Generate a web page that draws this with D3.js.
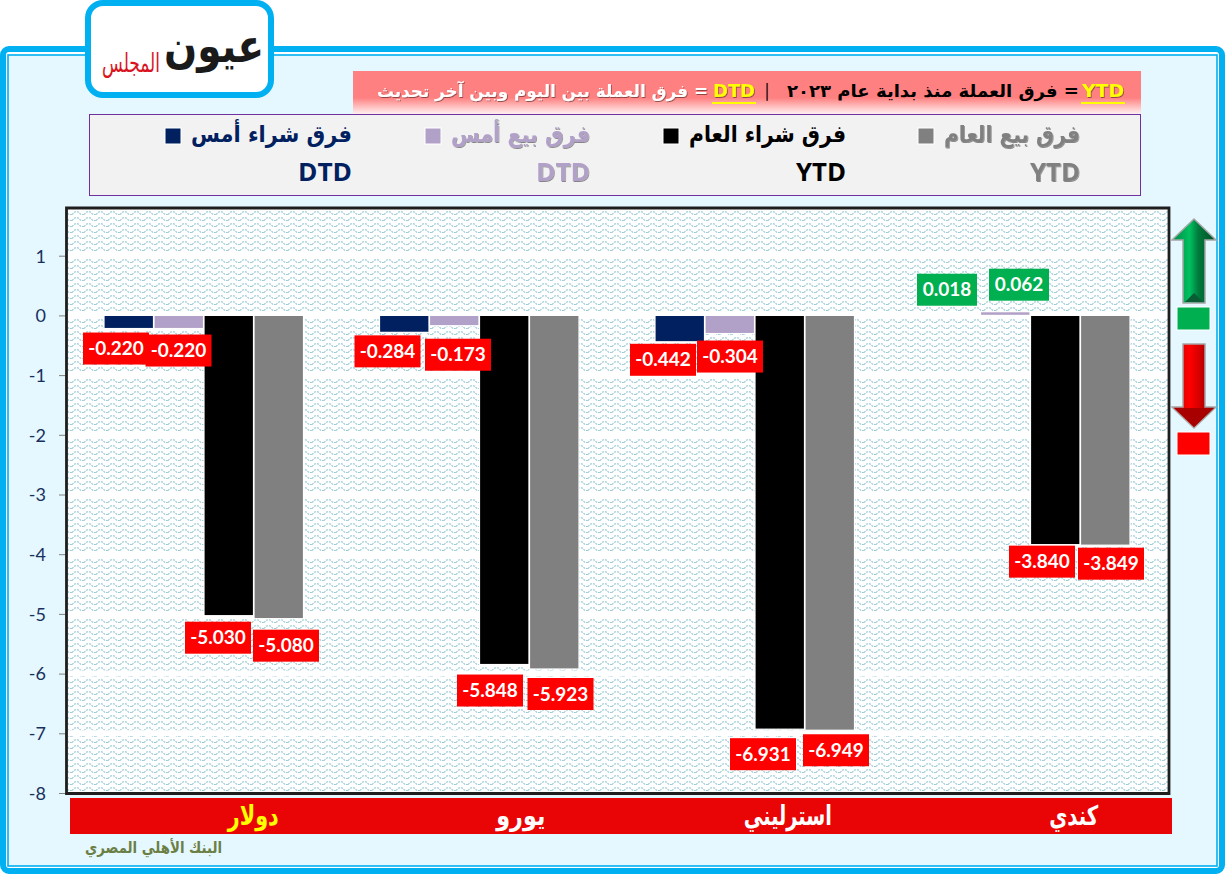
<!DOCTYPE html>
<html lang="ar"><head><meta charset="utf-8">
<style>html,body{margin:0;padding:0;background:#fff;overflow:hidden}svg{display:block}</style>
<script src="https://cdn.jsdelivr.net/npm/d3@7/dist/d3.min.js"></script></head>
<body><svg id="c" width="1225" height="874"></svg>
<script>
const categories = ["دولار","يورو","استرليني","كندي"];
const seriesNames = ["فرق شراء أمس","فرق بيع أمس","فرق شراء العام","فرق بيع العام"];
const seriesTags = ["DTD","DTD","YTD","YTD"];
const buyYesterday = [-0.220,-0.284,-0.442,0.018];
const sellYesterday = [-0.220,-0.173,-0.304,0.062];
const buyYear = [-5.030,-5.848,-6.931,-3.840];
const sellYear = [-5.080,-5.923,-6.949,-3.849];
const seriesValues = [buyYesterday,sellYesterday,buyYear,sellYear];
const seriesColors = ["#002060","#b1a0c7","#000000","#808080"];
const yTicks = [1,0,-1,-2,-3,-4,-5,-6,-7,-8];
const catLabelColors = ["#ffff00","#ffffff","#ffffff","#ffffff"];
// hand placement of labels relative to the bar they belong to [dx,dy] per category, per series
const labelNudges = [
 [[-13,20],[-0.5,22],[-11,22],[7,27]],
 [[-17,19],[3.5,29],[-14.5,26],[6,25]],
 [[-17,18],[0,23],[-17,25],[6,20]],
 [[-8.5,-24.6],[13.5,-27],[-13.5,17],[5.5,18.5]]
];
const catNudge = [49.5,41.5,33,43.5];
const catWidths = [51,49,88,49];

const FONT = "'DejaVu Sans',sans-serif", NUM = "Lato,'Open Sans',sans-serif";
const svg = d3.select("#c");
const defs = svg.append("defs");

// hatch
const pat = defs.append("pattern").attr("id","wave").attr("patternUnits","userSpaceOnUse").attr("width",12).attr("height",6);
pat.append("rect").attr("width",12).attr("height",6).attr("fill","#fff");
pat.append("path").attr("d","M0 4.5 L3 1.8 L6 1.8 L9 4.5 L12 4.5").attr("fill","none").attr("stroke","#9ccbd6").attr("stroke-width",1.2).attr("stroke-dasharray","2 1");

const gradTitle = defs.append("linearGradient").attr("id","gTitle").attr("x1",0).attr("x2",0).attr("y1",0).attr("y2",1);
gradTitle.selectAll("stop").data([[0,"#ff8080"],[.62,"#ff8080"],[1,"#fff0f0"]]).join("stop").attr("offset",d=>d[0]).attr("stop-color",d=>d[1]);
const gu = defs.append("linearGradient").attr("id","gUp");
gu.selectAll("stop").data([[0,"#008a46"],[.4,"#00c060"],[.6,"#007a3c"],[1,"#004d26"]]).join("stop").attr("offset",d=>d[0]).attr("stop-color",d=>d[1]);
const gd = defs.append("linearGradient").attr("id","gDn");
gd.selectAll("stop").data([[0,"#c00000"],[.4,"#ff0000"],[.65,"#d00000"],[1,"#600000"]]).join("stop").attr("offset",d=>d[0]).attr("stop-color",d=>d[1]);
const sh = defs.append("filter").attr("id","shadow").attr("x","-10%").attr("y","-20%").attr("width","120%").attr("height","150%");
sh.append("feDropShadow").attr("dx",.8).attr("dy",1).attr("stdDeviation",.7).attr("flood-color","#000").attr("flood-opacity",.45);

// frame
svg.append("rect").attr("x",3).attr("y",49).attr("width",1219).attr("height",822).attr("rx",6).attr("fill","#fff").attr("stroke","#00b0f0").attr("stroke-width",6);
svg.append("rect").attr("x",8).attr("y",55).attr("width",1209).attr("height",811).attr("fill","#e5f7ff").attr("stroke","#00b0f0").attr("stroke-width",1.6);

// logo
svg.append("rect").attr("x",88).attr("y",3).attr("width",183).attr("height",92).attr("rx",15).attr("fill","#fff").attr("stroke","#00b0f0").attr("stroke-width",6);
svg.append("text").text("عيون").attr("x",264).attr("y",62).attr("text-anchor","start").attr("direction","rtl").attr("font-family",FONT).attr("font-weight",700).attr("font-size",46).attr("fill","#1a1a1a").attr("textLength",100).attr("lengthAdjust","spacingAndGlyphs");
svg.append("text").text("المجلس").attr("x",160).attr("y",72).attr("text-anchor","start").attr("direction","rtl").attr("font-family",FONT).attr("font-size",26).attr("fill","#d9141e").attr("textLength",58).attr("lengthAdjust","spacingAndGlyphs");

// title strip
svg.append("rect").attr("x",353).attr("y",71).attr("width",788).attr("height",43).attr("fill","url(#gTitle)");
const title = [
 {t:"YTD",x:1124,w:42,c:"#ffff00",u:1,s:1},
 {t:"= فرق العملة منذ بداية عام ٢٠٢٣",x:1079,w:292,c:"#000"},
 {t:"|",x:769,w:4,c:"#000"},
 {t:"DTD",x:755,w:42,c:"#ffff00",u:1,s:1},
 {t:"= فرق العملة بين اليوم وبين آخر تحديث",x:708,w:331,c:"#fff",s:1}
];
title.forEach(d=>{
 const rtl = !/^[A-Z|]/.test(d.t);
 const n = svg.append("text").text(d.t).attr("x",d.x).attr("y",97).attr("text-anchor",rtl?"start":"end").attr("font-family",FONT).attr("font-weight",700).attr("font-size",17).attr("fill",d.c).attr("textLength",d.w).attr("lengthAdjust","spacingAndGlyphs");
 if(rtl) n.attr("direction","rtl");
 if(d.s) n.attr("filter","url(#shadow)");
 if(d.u) svg.append("rect").attr("x",d.x-d.w-1).attr("y",102).attr("width",d.w+2).attr("height",2).attr("fill","#ffff00");
});

// legend
svg.append("rect").attr("x",89.5).attr("y",114.5).attr("width",1051).attr("height",81).attr("fill","#f2f2f2").attr("stroke","#7030a0").attr("stroke-width",1);
const legendRight = d3.scaleOrdinal().domain(seriesNames).range([352,590,846,1080]);
const legendSwatch = d3.scaleOrdinal().domain(seriesNames).range([165,425,663,918]);
seriesNames.forEach((name,i)=>{
 const col = seriesColors[i], r = legendRight(name), sx = legendSwatch(name);
 svg.append("rect").attr("x",sx).attr("y",128).attr("width",16).attr("height",16).attr("fill",col).attr("stroke","#fff").attr("stroke-width",1);
 const a = svg.append("text").text(name).attr("x",r).attr("y",142).attr("text-anchor","start").attr("direction","rtl").attr("font-family",FONT).attr("font-weight",700).attr("font-size",23).attr("fill",col).attr("textLength",r-sx-26).attr("lengthAdjust","spacingAndGlyphs");
 const b = svg.append("text").text(seriesTags[i]).attr("x",r).attr("y",181).attr("text-anchor","end").attr("font-family","'Open Sans',sans-serif").attr("font-weight",700).attr("font-size",25).attr("fill",col).attr("textLength",seriesTags[i]==="DTD"?54:50).attr("lengthAdjust","spacingAndGlyphs");
 if(i===1||i===3){a.attr("filter","url(#shadow)");b.attr("filter","url(#shadow)");}
});

// scales
const y = d3.scaleLinear().domain([-8,1]).range([793,255.7]);
const x0 = d3.scaleBand().domain(categories).range([66,1168]);
const x1 = d3.scaleBand().domain(seriesNames).range([38,238]);
const plot = {l:66.5,t:208,r:1169,b:793};

svg.append("rect").attr("x",plot.l).attr("y",plot.t).attr("width",plot.r-plot.l).attr("height",plot.b-plot.t).attr("fill","url(#wave)");

// gridlines
svg.append("g").selectAll("line").data(yTicks.filter(d=>d>-8)).join("line")
 .attr("x1",plot.l).attr("x2",plot.r).attr("y1",d=>y(d)).attr("y2",d=>y(d)).attr("stroke","#fff").attr("stroke-width",6);

// y axis
const axis = svg.append("g").attr("transform","translate(66,0)").call(d3.axisLeft(y).tickValues(yTicks).tickFormat(d=>String(d)).tickSize(7).tickPadding(13));
axis.select(".domain").remove();
axis.selectAll(".tick line").attr("stroke","#808080");
axis.selectAll(".tick text").attr("font-family",NUM).attr("font-size",18).attr("fill","#17305e").attr("dy","0.35em");

// bars
const groups = svg.append("g").selectAll("g").data(categories).join("g").attr("transform",d=>`translate(${x0(d)},0)`);
groups.each(function(cat,ci){
 const g = d3.select(this);
 seriesNames.forEach((name,si)=>{
  const v = seriesValues[si][ci];
  g.append("rect").attr("x",x1(name)).attr("width",x1.bandwidth()-.5)
   .attr("y",Math.min(y(v),y(0))).attr("height",Math.abs(y(v)-y(0)))
   .attr("fill",seriesColors[si]).attr("stroke","#fff").attr("stroke-width",1.2);
 });
});

// value labels
categories.forEach((cat,ci)=>{
 seriesNames.forEach((name,si)=>{
  const v = seriesValues[si][ci];
  const [dx,dy] = labelNudges[ci][si];
  const cx = x0(cat)+x1(name)+x1.bandwidth()/2+dx, cy = y(v)+dy;
  const w = v<0?66:60, h=32;
  const col = v<0?"#ff0000":"#00b050";
  svg.append("rect").attr("x",cx-w/2).attr("y",cy-h/2).attr("width",w).attr("height",h).attr("fill",col);
 });
});
categories.forEach((cat,ci)=>{
 seriesNames.forEach((name,si)=>{
  const v = seriesValues[si][ci];
  const [dx,dy] = labelNudges[ci][si];
  const cx = x0(cat)+x1(name)+x1.bandwidth()/2+dx, cy = y(v)+dy;
  svg.append("text").text(d3.format(".3f")(v).replace("−","-")).attr("x",cx).attr("y",cy).attr("dy","0.35em").attr("text-anchor","middle").attr("font-family",NUM).attr("font-weight",700).attr("font-size",19).attr("fill","#fff");
 });
});

// frame of plot
svg.append("path").attr("d",`M${plot.l} ${plot.t} H${plot.r} V${plot.b+.5} H${plot.l} Z`).attr("fill","none").attr("stroke","#1e1e1e").attr("stroke-width",2.8);

// category strip
svg.append("rect").attr("x",70).attr("y",798).attr("width",1102).attr("height",36).attr("fill","#e90505");
svg.append("g").selectAll("text").data(categories).join("text").text(d=>d)
 .attr("x",(d,i)=>x0(d)+x0.bandwidth()/2+catNudge[i]+catWidths[i]/2).attr("y",825).attr("text-anchor","start").attr("direction","rtl")
 .attr("font-family",FONT).attr("font-weight",700).attr("font-size",27).attr("fill",(d,i)=>catLabelColors[i])
 .attr("textLength",(d,i)=>catWidths[i]).attr("lengthAdjust","spacingAndGlyphs");

svg.append("text").text("البنك الأهلي المصري").attr("x",222).attr("y",853).attr("text-anchor","start").attr("direction","rtl").attr("font-family",FONT).attr("font-weight",700).attr("font-size",16).attr("fill","#6b7f45").attr("textLength",137).attr("lengthAdjust","spacingAndGlyphs");

// arrows
const arrow = d3.line();
svg.append("path").attr("d",arrow([[1194,219],[1216,240],[1205,240],[1205,303],[1183,303],[1183,240],[1172,240]])+"Z").attr("fill","url(#gUp)").attr("stroke","#a6a6a6").attr("stroke-width",1.5);
svg.append("path").attr("d",arrow([[1185,302],[1203,302],[1194,293]])+"Z").attr("fill","#0a5c34");
svg.append("rect").attr("x",1177).attr("y",307).attr("width",33).attr("height",23).attr("fill","#00b050").attr("stroke","#fff");
svg.append("path").attr("d",arrow([[1194,428],[1216,407],[1205,407],[1205,344],[1183,344],[1183,407],[1172,407]])+"Z").attr("fill","url(#gDn)").attr("stroke","#a6a6a6").attr("stroke-width",1.5);
svg.append("path").attr("d",arrow([[1194,427],[1214,408],[1174,408]])+"Z").attr("fill","#a80000");
svg.append("rect").attr("x",1177).attr("y",432).attr("width",33).attr("height",23).attr("fill","#ff0000").attr("stroke","#fff");
</script></body></html>
